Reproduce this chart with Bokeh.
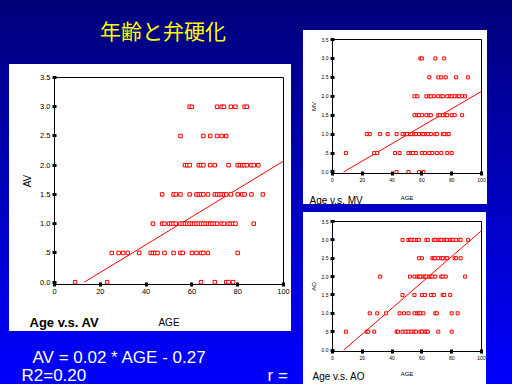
from bokeh.plotting import figure
from bokeh.layouts import row, column
from bokeh.models import Label, FixedTicker, Spacer, GlobalInlineStyleSheet
from bokeh.embed import file_html
from bokeh.resources import INLINE

# ---------------- data ----------------
x_ticks = [0, 20, 40, 60, 80, 100]
y_ticks = [0, 0.5, 1.0, 1.5, 2.0, 2.5, 3.0, 3.5]
y_tick_labels = ["0.0", ".5", "1.0", "1.5", "2.0", "2.5", "3.0", "3.5"]
levels = [3.0, 2.5, 2.0, 1.5, 1.0, 0.5, 0.0]

# Age v.s. AV (ages at each AV score level)
av_age_3_0 = [59, 60, 71, 73, 74, 77, 79, 83, 84]
av_age_2_5 = [55, 65, 68, 71, 73, 75]
av_age_2_0 = [57, 58, 59, 63, 64, 65, 68, 70, 76, 80, 81, 82, 83, 84, 86, 87, 89]
av_age_1_5 = [47, 52, 53, 55, 59, 62, 63, 64, 65, 67, 70, 71, 72, 73, 74, 75, 77, 80, 82, 83, 86, 91]
av_age_1_0 = [43, 47, 48, 50, 51, 52, 53, 55, 56, 57, 58, 59, 60, 61, 62, 63, 64, 65, 66, 67,
              68, 69, 70, 71, 73, 74, 76, 77, 78, 79, 87]
av_age_0_5 = [25, 28, 30, 32, 37, 42, 43, 44, 45, 48, 52, 55, 56, 60, 62, 64, 65, 67, 80]
av_age_0_0 = [9, 23, 64, 70, 75, 76, 78]
av_fit_age = [13, 100]
av_fit_val = [0, 2.07]

# Age v.s. MV
mv_age_3_0 = [59, 60, 69, 75]
mv_age_2_5 = [65, 71, 73, 76, 83, 91]
mv_age_2_0 = [55, 57, 63, 65, 66, 68, 71, 73, 74, 77, 79, 80, 82, 84, 85, 87, 89]
mv_age_1_5 = [55, 57, 58, 60, 63, 65, 66, 71, 72, 74, 76, 77, 80, 82, 87]
mv_age_1_0 = [23, 25, 32, 37, 43, 47, 49, 50, 52, 53, 55, 56, 58, 60, 61, 63, 64, 66, 69, 70, 74, 75, 77, 78]
mv_age_0_5 = [9, 28, 30, 42, 45, 51, 53, 54, 56, 60, 62, 65, 67, 70, 73, 77, 80]
mv_age_0_0 = [43, 51, 58, 61]
mv_fit_age = [7.4, 100]
mv_fit_val = [0, 2.13]

# Age v.s. AO
ao_age_3_0 = [47, 51, 52, 53, 55, 57, 58, 63, 64, 68, 69, 71, 72, 73, 75, 76, 77, 79, 80, 81, 83, 85, 86, 91]
ao_age_2_5 = [58, 60, 67, 68, 69, 71, 73, 74, 76, 77, 82, 83, 86]
ao_age_2_0 = [32, 52, 55, 57, 58, 59, 61, 62, 63, 65, 66, 67, 69, 73, 74, 76, 89]
ao_age_1_5 = [47, 55, 60, 62, 66, 68, 74, 75, 79]
ao_age_1_0 = [25, 30, 36, 45, 48, 51, 55, 57, 58, 59, 61, 69, 70, 80, 84]
ao_age_0_5 = [9, 23, 24, 28, 43, 44, 47, 49, 51, 53, 55, 56, 59, 60, 62, 63, 64, 71, 80]
ao_age_0_0 = []
ao_fit_age = [7.6, 100]
ao_fit_val = [0, 3.25]

title_text = "年齢と弁硬化"
equation_text = "AV = 0.02 * AGE - 0.27"
r2_text = "R2=0.20"
r_text = "r ="
x_label = "AGE"


def flatten(groups):
    xs, ys = [], []
    for lev, ages in zip(levels, groups):
        xs += ages
        ys += [lev] * len(ages)
    return xs, ys


FONT = "Liberation Sans"


def make_chart(groups, fit_x, fit_y, w, h, bl, br, bt, bb, ylabel,
               tick_fs, lab_fs, msize, y_lab_standoff, pad):
    xs, ys = flatten(groups)
    p = figure(width=w, height=h, x_range=(0, 100), y_range=(-pad, 3.5),
               output_backend="svg", toolbar_location=None,
               min_border_left=bl, min_border_right=br, min_border_top=bt, min_border_bottom=bb,
               background_fill_color="white", border_fill_color="white",
               outline_line_color="black", outline_line_width=1)
    p.xgrid.visible = False
    p.ygrid.visible = False
    p.line(fit_x, fit_y, line_color="red", line_width=1)
    p.scatter(xs, ys, marker="square", size=msize, fill_color="white",
              line_color="red", line_width=1)
    for ax in (p.xaxis[0], p.yaxis[0]):
        ax.axis_line_color = "black"
        ax.axis_line_width = 1
        ax.major_tick_line_color = "black"
        ax.major_tick_line_width = 3
        ax.major_tick_in = 2
        ax.major_tick_out = 2
        ax.minor_tick_line_color = None
        ax.major_label_text_font = FONT
        ax.major_label_text_font_size = tick_fs
        ax.major_label_text_color = "black"
        ax.major_label_standoff = 2
        ax.axis_label_text_font = FONT
        ax.axis_label_text_font_size = lab_fs
        ax.axis_label_text_font_style = "normal"
        ax.axis_label_text_color = "black"
    p.xaxis[0].ticker = FixedTicker(ticks=x_ticks)
    p.yaxis[0].ticker = FixedTicker(ticks=y_ticks)
    p.yaxis[0].major_label_overrides = {t: l for t, l in zip(y_ticks, y_tick_labels)}
    p.yaxis[0].axis_label = ylabel
    p.yaxis[0].axis_label_standoff = y_lab_standoff
    return p


def caption_strip(w, h, caption, cap_x, cap_y, cap_fs, cap_style, age_x, age_y, age_fs):
    p = figure(width=w, height=h, x_range=(0, w), y_range=(0, h), output_backend="svg",
               toolbar_location=None, min_border=0, x_axis_type=None, y_axis_type=None,
               background_fill_color="white", border_fill_color="white", outline_line_color=None)
    p.xgrid.visible = False
    p.ygrid.visible = False
    p.add_layout(Label(x=cap_x, y=cap_y, text=caption, text_font=FONT, text_font_size=cap_fs,
                       text_font_style=cap_style, text_color="black",
                       text_align="left", text_baseline="alphabetic"))
    p.add_layout(Label(x=age_x, y=age_y, text=x_label, text_font=FONT, text_font_size=age_fs,
                       text_color="black", text_align="center", text_baseline="alphabetic"))
    return p


def text_fig(w, h):
    p = figure(width=w, height=h, x_range=(0, w), y_range=(0, h), output_backend="svg",
               toolbar_location=None, min_border=0, x_axis_type=None, y_axis_type=None,
               background_fill_alpha=0, border_fill_alpha=0, outline_line_color=None)
    p.xgrid.visible = False
    p.ygrid.visible = False
    return p


WHITE = {"background-color": "white"}

# main chart: panel x 9..291, y 64..331
main_fig = make_chart([av_age_3_0, av_age_2_5, av_age_2_0, av_age_1_5, av_age_1_0, av_age_0_5, av_age_0_0],
                      av_fit_age, av_fit_val, 282, 236, 45, 8, 13, 16, "AV",
                      "7.5px", "10px", 3.5, 4, 0.04)
main_cap = caption_strip(282, 31, "Age v.s. AV", 20, 9, "13px", "bold", 159.5, 9.5, "10px")

# MV chart: panel x 303..487, y 30..204
mv_fig = make_chart([mv_age_3_0, mv_age_2_5, mv_age_2_0, mv_age_1_5, mv_age_1_0, mv_age_0_5, mv_age_0_0],
                    mv_fit_age, mv_fit_val, 184, 155, 29, 6, 9, 12, "MV",
                    "5px", "6px", 3, 2, 0.04)
mv_cap = caption_strip(184, 19, "Age v.s. MV", 6, 4.5, "10px", "normal", 103.5, 7, "6px")

# AO chart: panel x 303..486, y 212..384
ao_fig = make_chart([ao_age_3_0, ao_age_2_5, ao_age_2_0, ao_age_1_5, ao_age_1_0, ao_age_0_5, ao_age_0_0],
                    ao_fit_age, ao_fit_val, 183, 150, 29, 5, 9, 11, "AO",
                    "5px", "6px", 3, 2, 0.04)
ao_cap = caption_strip(183, 22, "Age v.s. AO", 9, 8, "10px", "normal", 103.5, 11, "6px")

title_fig = text_fig(298, 64)
title_fig.add_layout(Label(x=162.5, y=35, text=title_text, text_font="Noto Sans CJK JP",
                           text_font_size="21px", text_color="#ffff00", text_align="center",
                           text_baseline="middle"))

eq_fig = text_fig(298, 53)
eq_fig.add_layout(Label(x=32, y=27, text=equation_text, text_font=FONT, text_font_size="17px",
                        text_color="white", text_align="left", text_baseline="alphabetic"))
eq_fig.add_layout(Label(x=21, y=9, text=r2_text, text_font=FONT, text_font_size="17px",
                        text_color="white", text_align="left", text_baseline="alphabetic"))
eq_fig.add_layout(Label(x=267, y=9, text=r_text, text_font=FONT, text_font_size="17px",
                        text_color="white", text_align="left", text_baseline="alphabetic"))

# each figure sits in its own row so that Bokeh does not align the frames
main_panel = column(row(main_fig), row(main_cap), styles=WHITE)
mv_panel = column(row(mv_fig), row(mv_cap), styles=WHITE)
ao_panel = column(row(ao_fig), row(ao_cap), styles=WHITE)

left = column(title_fig,
              row(Spacer(width=9, height=267), main_panel),
              eq_fig)
right = column(Spacer(width=214, height=30),
               row(Spacer(width=5, height=174), mv_panel),
               Spacer(width=214, height=8),
               row(Spacer(width=5, height=172), ao_panel))

bg = GlobalInlineStyleSheet(css="html{height:100%;background:linear-gradient(to bottom,#00007a 0%,#0000ff 100%);}")
root = row(left, right, stylesheets=[bg])

open("out.html", "w").write(file_html(root, INLINE))
